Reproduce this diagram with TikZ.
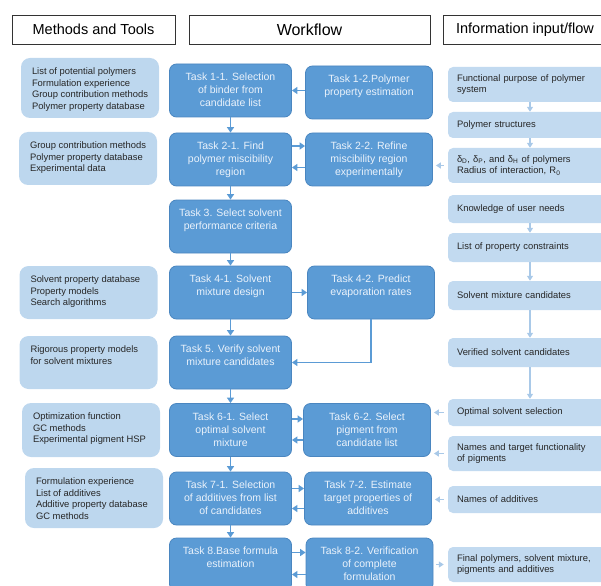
\documentclass[tikz,border=0pt]{standalone}
\usepackage{fontspec}
\setmainfont{Liberation Sans}
\usetikzlibrary{arrows.meta}
\definecolor{taskfill}{HTML}{5B9BD5}
\definecolor{taskline}{HTML}{4A86C0}
\definecolor{tasktext}{HTML}{EAF2FB}
\definecolor{toolfill}{HTML}{BDD7EE}
\definecolor{infofill}{HTML}{C2DAF0}
\definecolor{feedcol}{HTML}{A9C9E8}
\tikzset{
    heading/.style={draw=black!80, line width=0.9pt, minimum height=29pt, inner sep=0pt, font=\fontsize{14.5}{17}\selectfont},
    task/.style={draw=taskline, line width=0.8pt, fill=taskfill, rounded corners=7pt, text=tasktext, inner xsep=5pt, inner ysep=0pt, font=\fontsize{10.5}{13}\selectfont,
        execute at begin node={\begin{minipage}[t][53pt][t]{#1}\centering\rule{0pt}{16.8pt}},
        execute at end node={\end{minipage}}},
    task/.default=112pt,
    tool/.style={fill=toolfill, rounded corners=9pt, text=black!85, inner xsep=11pt, inner ysep=0pt, font=\fontsize{9.4}{11.7}\selectfont,
        execute at begin node={\begin{minipage}[t][#1][t]{116pt}\raggedright\rule{0pt}{16.4pt}},
        execute at end node={\end{minipage}}},
    tool/.default=53pt,
    info/.style={fill=infofill, rounded corners=5pt, text=black!85, inner xsep=9pt, inner ysep=1pt, text width=146pt, align=left, minimum height=#1, font=\fontsize{9.4}{11.7}\selectfont},
    flow/.style={-{Triangle[length=5.5pt,width=7pt]}, line width=1.5pt, draw=taskfill},
    feed/.style={-{Triangle[length=5pt,width=6pt]}, line width=1.3pt, draw=feedcol}
}

\begin{document}
\begin{tikzpicture}[x=1pt, y=-1pt]
    \useasboundingbox (0,0) rectangle (601,585);
    \clip (0,0) rectangle (601,585);
% Headings
    \node[heading, minimum width=163pt] (methods) at (93.5,29.5) {Methods and Tools};
    \node[heading, minimum width=241pt, font=\fontsize{16}{19}\selectfont] (workflow) at (309.5,29.5) {Workflow};
    \node[heading, minimum width=164pt] (information) at (525,29.5) {Information input/flow};
% Methods and tools
    \node[tool=60pt] (tools1) at (90,88) {List of potential polymers\\Formulation experience\\Group contribution methods\\Polymer property database};
    \node[tool] (tools2) at (88,158.5) {Group contribution methods\\Polymer property database\\Experimental data};
    \node[tool] (tools3) at (88.5,292.5) {Solvent property database\\Property models\\Search algorithms};
    \node[tool] (tools4) at (88.5,362.5) {Rigorous property models\\for solvent mixtures};
    \node[tool=54pt] (tools5) at (91,430) {Optimization function\\GC methods\\Experimental pigment HSP};
    \node[tool=60pt] (tools6) at (94,498) {Formulation experience\\List of additives\\Additive property database\\GC methods};
% Workflow
    \node[task] (t11) at (230.5,90.5) {Task 1-1. Selection\\of binder from\\candidate list};
    \node[task=117pt] (t12) at (369,92.5) {Task 1-2.Polymer\\property estimation};
    \node[task] (t21) at (230.5,159.5) {Task 2-1. Find\\polymer miscibility\\region};
    \node[task=117pt] (t22) at (369,159.5) {Task 2-2. Refine\\miscibility region\\experimentally};
    \node[task] (t3) at (230.5,226.5) {Task 3. Select solvent\\performance criteria};
    \node[task] (t41) at (230.5,292.5) {Task 4-1. Solvent\\mixture design};
    \node[task=117pt] (t42) at (371,292.5) {Task 4-2. Predict\\evaporation rates};
    \node[task] (t5) at (230.5,362.5) {Task 5. Verify solvent\\mixture candidates};
    \node[task] (t61) at (230.5,430) {Task 6-1. Select\\optimal solvent\\mixture};
    \node[task=117pt] (t62) at (367,430) {Task 6-2. Select\\pigment from\\candidate list};
    \node[task] (t71) at (230.5,498.5) {Task 7-1. Selection\\of additives from list\\of candidates};
    \node[task=117pt] (t72) at (368,498.5) {Task 7-2. Estimate\\target properties of\\additives};
    \node[task] (t8) at (230.5,564.5) {Task 8.Base formula\\estimation};
    \node[task=117pt] (t82) at (369.5,564.5) {Task 8-2. Verification\\of complete\\formulation};
% Information input
    \node[info=35pt] (in1) at (530,84.5) {Functional purpose of polymer\\system};
    \node[info=26pt] (in2) at (530,125) {Polymer structures};
    \node[info=35pt] (in3) at (530,165.5) {δ\textsubscript{D}, δ\textsubscript{P}, and δ\textsubscript{H} of polymers\\Radius of interaction, R\textsubscript{0}};
    \node[info=28pt] (in4) at (530,209) {Knowledge of user needs};
    \node[info=29pt] (in5) at (530,247.5) {List of property constraints};
    \node[info=29pt] (in6) at (530,295.5) {Solvent mixture candidates};
    \node[info=29pt] (in7) at (530,352.5) {Verified solvent candidates};
    \node[info=27pt] (in8) at (530,412.5) {Optimal solvent selection};
    \node[info=35pt] (in9) at (530,453.5) {Names and target functionality\\of pigments};
    \node[info=27pt] (in10) at (530,499.5) {Names of additives};
    \node[info=35pt] (in11) at (530,564.5) {Final polymers, solvent mixture,\\pigments and additives};
% Task sequence
    \draw[flow] (t11) -- (t21);
    \draw[flow] (t21) -- (t3);
    \draw[flow] (t3) -- (t41);
    \draw[flow] (t41) -- (t5);
    \draw[flow] (t5) -- (t61);
    \draw[flow] (t61) -- (t71);
    \draw[flow] (t71) -- (t8);
% Sub-tasks
    \draw[flow] (t12.west |- t11) -- (t11.east);
    \draw[flow] ([yshift=13.5pt]t21.east) -- ([yshift=13.5pt]t22.west);
    \draw[flow] ([yshift=-8pt]t22.west) -- ([yshift=-8pt]t21.east);
    \draw[flow] (t41) -- (t42);
    \draw[flow] (t42.south) |- (t5.east);
    \draw[flow] ([yshift=11pt]t61.east) -- ([yshift=11pt]t62.west);
    \draw[flow] ([yshift=-10pt]t62.west) -- ([yshift=-10pt]t61.east);
    \draw[flow] ([yshift=10pt]t71.east) -- ([yshift=10pt]t72.west);
    \draw[flow] ([yshift=-10pt]t72.west) -- ([yshift=-10pt]t71.east);
    \draw[flow] ([yshift=12pt]t8.east) -- ([yshift=12pt]t82.west);
    \draw[flow] ([yshift=-10pt]t82.west) -- ([yshift=-10pt]t8.east);
% Information flow
    \draw[feed] (in1) -- (in2);
    \draw[feed] (in2) -- (in3);
    \draw[feed] (in4) -- (in5);
    \draw[feed] (in5) -- (in6);
    \draw[feed] (in6) -- (in7);
    \draw[feed] (in7) -- (in8);
    \draw[feed, shorten <=4pt, shorten >=3pt] (in3.west) -- (in3.west -| t22.east);
    \draw[feed, shorten <=4pt, shorten >=3pt] (in8.west) -- (in8.west -| t62.east);
    \draw[feed, shorten <=4pt, shorten >=3pt] (in9.west) -- (in9.west -| t62.east);
    \draw[feed, shorten <=4pt, shorten >=3pt] (in10.west) -- (in10.west -| t72.east);
    \draw[feed, shorten <=3pt, shorten >=4pt] (t82.east |- in11.west) -- (in11.west);
\end{tikzpicture}
\end{document}
